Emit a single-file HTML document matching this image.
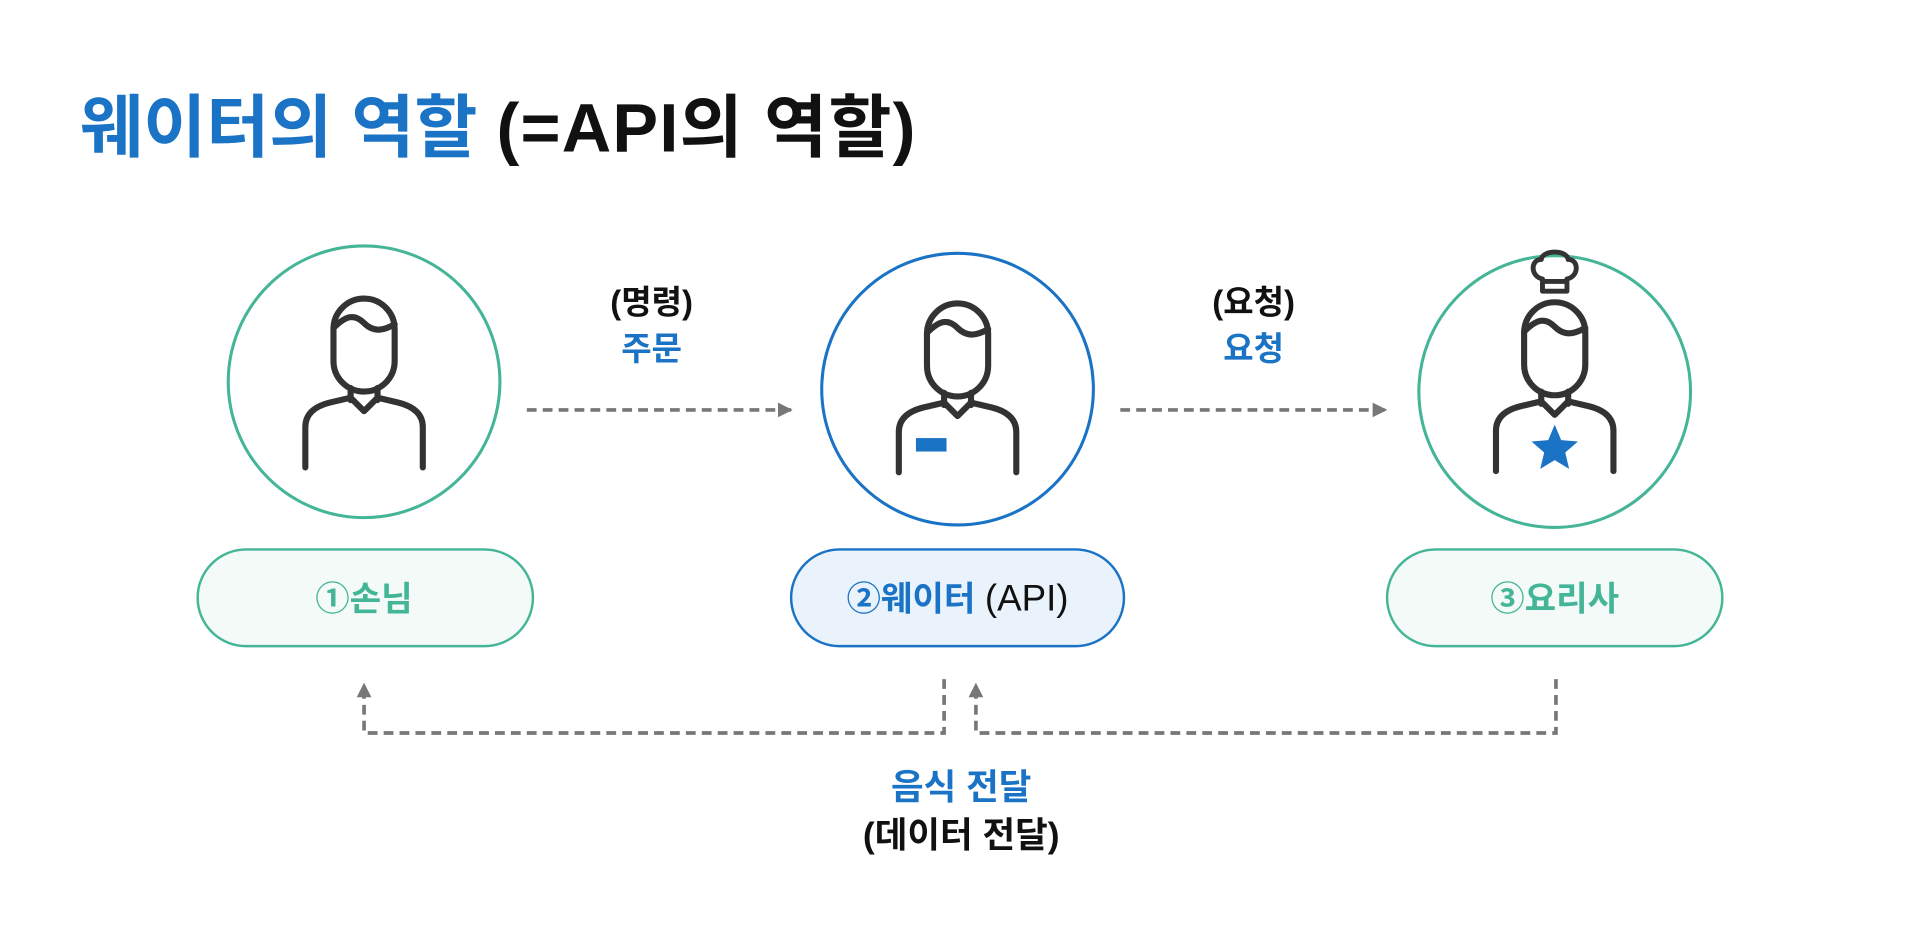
<!DOCTYPE html>
<html><head><meta charset="utf-8"><style>
html,body{margin:0;padding:0;background:#fff;}
svg{display:block;}
text{font-family:"Liberation Sans","Noto Sans CJK KR",sans-serif;font-weight:bold;}
</style></head><body>
<svg width="1920" height="930" viewBox="0 0 1568 760" xmlns="http://www.w3.org/2000/svg">
<defs>
<g id="person" fill="none" stroke="#333" stroke-width="5" stroke-linecap="round" stroke-linejoin="round">
  <rect x="-25" y="0" width="50" height="76" rx="25"/>
  <path d="M-25,24 C-15,14 -8,12 0,20 C8,28 16,26 25,21"/>
  <path d="M-11,73 L-11,83 M11,73 L11,83"/>
  <path d="M-48,138 L-48,105 Q-48,90 -28,85 L-11,81 L0,92 L11,81 L28,85 Q48,90 48,105 L48,138"/>
</g>
<marker id="ah" viewBox="0 0 10 10" refX="9" refY="5" markerWidth="4" markerHeight="4" orient="auto">
  <path d="M0,0 L10,5 L0,10 z" fill="#777"/>
</marker>
</defs>

<text x="65" y="124" font-size="56" fill="#1a73c5">웨이터의 역할 <tspan fill="#111" letter-spacing="1">(=API의 역할)</tspan></text>

<circle cx="297" cy="312" r="111" fill="#fff" stroke="#45b597" stroke-width="2.5"/>
<circle cx="782" cy="318" r="111" fill="#fff" stroke="#1a73c5" stroke-width="2.5"/>
<circle cx="1270" cy="320" r="111" fill="#fff" stroke="#45b597" stroke-width="2.5"/>

<use href="#person" x="297" y="244"/>
<use href="#person" x="782" y="248"/>
<rect x="748" y="358" width="25" height="11" fill="#1a73c5"/>
<use href="#person" x="1270" y="247"/>
<path d="M1260,238 L1260,228 C1250,226 1250,212 1259,212 C1260,204 1280,204 1281,212 C1290,212 1290,226 1280,228 L1280,238 Z M1260,230 L1280,230" fill="none" stroke="#333" stroke-width="4" stroke-linejoin="round"/>
<path d="M1270,347 L1275.3,359.7 L1289,360.8 L1278.6,369.8 L1281.8,383.2 L1270,376 L1258.2,383.2 L1261.4,369.8 L1251,360.8 L1264.7,359.7 Z" fill="#1a73c5"/>

<rect x="161" y="449" width="274" height="79" rx="39.5" fill="#f3faf7" stroke="#45b597" stroke-width="2"/>
<text x="297" y="499" font-size="28" fill="#45b597" text-anchor="middle">①손님</text>
<rect x="646" y="449" width="272" height="79" rx="39.5" fill="#eaf3fc" stroke="#1a73c5" stroke-width="2"/>
<text x="782" y="499" font-size="28" fill="#1a73c5" text-anchor="middle">②웨이터 <tspan fill="#111" font-weight="normal" font-size="30">(API)</tspan></text>
<rect x="1133" y="449" width="274" height="79" rx="39.5" fill="#f3faf7" stroke="#45b597" stroke-width="2"/>
<text x="1270" y="499" font-size="28" fill="#45b597" text-anchor="middle">③요리사</text>

<g stroke="#777" stroke-width="3" stroke-dasharray="8,5" fill="none">
  <path d="M430,335 L646,335" marker-end="url(#ah)"/>
  <path d="M915,335 L1132,335" marker-end="url(#ah)"/>
  <path d="M771,555 L771,599 L297,599 L297,559" marker-end="url(#ah)"/>
  <path d="M1271,555 L1271,599 L797,599 L797,559" marker-end="url(#ah)"/>
</g>

<text x="532" y="256" font-size="27" fill="#111" text-anchor="middle">(명령)</text>
<text x="532" y="294" font-size="27" fill="#1a73c5" text-anchor="middle">주문</text>
<text x="1024" y="256" font-size="27" fill="#111" text-anchor="middle">(요청)</text>
<text x="1024" y="294" font-size="27" fill="#1a73c5" text-anchor="middle">요청</text>

<text x="785" y="653" font-size="29" fill="#1a73c5" text-anchor="middle">음식 전달</text>
<text x="785" y="692" font-size="29" fill="#111" text-anchor="middle">(데이터 전달)</text>
</svg>
</body></html>
